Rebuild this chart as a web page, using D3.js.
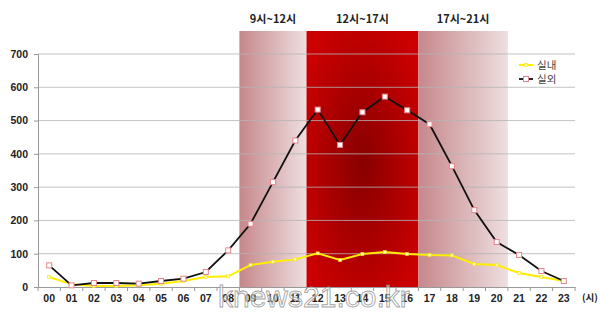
<!DOCTYPE html>
<html><head><meta charset="utf-8">
<script src="https://cdn.jsdelivr.net/npm/d3@7"></script>
<style>
body{margin:0;background:#fff;}
svg{display:block;font-family:"Noto Sans CJK KR","Noto Sans",sans-serif;}
</style></head>
<body><svg id="c" width="600" height="315"></svg>
<script>
const hours = ["00","01","02","03","04","05","06","07","08","09","10","11","12","13","14","15","16","17","18","19","20","21","22","23"];
const indoor = [30,8,3,3,5,10,18,30,32,66,76,83,101,81,99,105,99,96,95,69,66,42,30,18];
const outdoor = [65,5,12,12,10,18,25,45,110,190,315,440,533,427,525,572,531,489,363,231,135,96,48,18];
const yTicks = [0,100,200,300,400,500,600,700];
const periods = [
  {label:"9시~12시", from:"09", to:"11", kind:"fade"},
  {label:"12시~17시", from:"12", to:"16", kind:"peak"},
  {label:"17시~21시", from:"17", to:"20", kind:"fade"}
];
const seriesNames = ["실내","실외"];

(function(){
const svg = d3.select("#c");
const mL = 38, mR = 575, mT = 54, mB = 287;
const x = d3.scaleBand().domain(hours).range([mL, mR]);
const y = d3.scaleLinear().domain([0,700]).range([mB, mT]);

const defs = svg.append("defs");
const fade = defs.append("linearGradient").attr("id","fade").attr("x1","0").attr("x2","1").attr("y1","0").attr("y2","0");
fade.append("stop").attr("offset","0").attr("stop-color","#c6878b");
fade.append("stop").attr("offset","1").attr("stop-color","#eedfe0");
const peak = defs.append("radialGradient").attr("id","peak").attr("cx","0.5").attr("cy","0.52").attr("r","0.62");
peak.append("stop").attr("offset","0").attr("stop-color","#880000");
peak.append("stop").attr("offset","1").attr("stop-color","#cc0000");

const bandTop = 31;
periods.forEach(p => {
  const x0 = x(p.from), x1 = x(p.to) + x.bandwidth();
  svg.append("rect").attr("x", x0).attr("y", bandTop).attr("width", x1 - x0).attr("height", mB - bandTop)
    .attr("fill", p.kind === "peak" ? "url(#peak)" : "url(#fade)");
  svg.append("text").attr("x", (x0 + x1)/2).attr("y", 23).attr("text-anchor","middle")
    .attr("font-size", 11).attr("font-weight", "bold").attr("fill", "#222").text(p.label);
});

svg.append("g").selectAll("line").data(yTicks.filter(d=>d>0)).join("line")
  .attr("x1", mL).attr("x2", mR).attr("y1", d=>y(d)).attr("y2", d=>y(d))
  .attr("stroke", "#b4b4b4").attr("stroke-opacity", 0.8).attr("stroke-width", 1);

const ya = svg.append("g").attr("transform", `translate(${mL},0)`)
  .call(d3.axisLeft(y).tickValues(yTicks).tickSize(4).tickPadding(6));
ya.select(".domain").attr("stroke", "#999");
ya.selectAll(".tick line").attr("stroke", "#999");
ya.selectAll("text").attr("font-size", 10.5).attr("font-weight", "bold").attr("fill", "#222")
  .attr("font-family", "'Liberation Sans',sans-serif");

const xa = svg.append("g").attr("transform", `translate(0,${mB})`)
  .call(d3.axisBottom(x).tickSize(0).tickPadding(8));
xa.select(".domain").attr("stroke", "#999");
xa.selectAll("text").attr("font-size", 10.5).attr("font-weight", "bold").attr("fill", "#222")
  .attr("font-family", "'Liberation Sans',sans-serif");
svg.append("g").selectAll("line").data(hours).join("line")
  .attr("x1", d=>x(d)).attr("x2", d=>x(d)).attr("y1", mB).attr("y2", mB+4)
  .attr("stroke", "#999");
svg.append("line").attr("x1", mR).attr("x2", mR).attr("y1", mB).attr("y2", mB+4).attr("stroke","#999");
svg.append("text").attr("x", 590).attr("y", 301).attr("text-anchor","middle").attr("font-size", 9.5)
  .attr("font-weight","bold").attr("fill","#222").text("(시)");

const cx = d => x(d) + x.bandwidth()/2;
const line = d3.line().x((d,i)=>cx(hours[i])).y(d=>y(d));

svg.append("path").datum(indoor).attr("d", line).attr("fill","none").attr("stroke","#ffee00").attr("stroke-width",2);
svg.append("g").selectAll("rect").data(indoor).join("rect")
  .attr("x",(d,i)=>cx(hours[i])-1.5).attr("y",d=>y(d)-1.5).attr("width",3).attr("height",3)
  .attr("fill","#fffbc8").attr("stroke","#f5e400").attr("stroke-width",0.6);

svg.append("path").datum(outdoor).attr("d", line).attr("fill","none").attr("stroke","#111").attr("stroke-width",1.8);
svg.append("g").selectAll("rect").data(outdoor).join("rect")
  .attr("x",(d,i)=>cx(hours[i])-2.5).attr("y",d=>y(d)-2.5).attr("width",5).attr("height",5)
  .attr("fill","#fff").attr("stroke","#e8858c").attr("stroke-width",1);

const lg = svg.append("g");
const lcol = [{stroke:"#ffee00", mfill:"#fffbc8", mstroke:"#f5e400", ms:3},{stroke:"#111", mfill:"#fff", mstroke:"#e8858c", ms:5}];
seriesNames.forEach((n,i)=>{
  const yy = 65 + i*14;
  lg.append("line").attr("x1",519).attr("x2",533).attr("y1",yy).attr("y2",yy).attr("stroke",lcol[i].stroke).attr("stroke-width",i?1.8:2);
  lg.append("rect").attr("x",526-lcol[i].ms/2).attr("y",yy-lcol[i].ms/2).attr("width",lcol[i].ms).attr("height",lcol[i].ms)
    .attr("fill",lcol[i].mfill).attr("stroke",lcol[i].mstroke).attr("stroke-width",i?1:0.6);
  lg.append("text").attr("x",537).attr("y",yy+4).attr("font-size",10.5).attr("fill","#444").text(n);
});

svg.append("text").attr("x", 218).attr("y", 307).attr("font-size", 30)
  .attr("font-family","'Liberation Sans',sans-serif").attr("fill","#fff").attr("fill-opacity",0.55)
  .attr("stroke","#8a8a8a").attr("stroke-width",0.9).attr("stroke-opacity",0.8).text("knews21.co.kr");
})();
</script></body></html>
